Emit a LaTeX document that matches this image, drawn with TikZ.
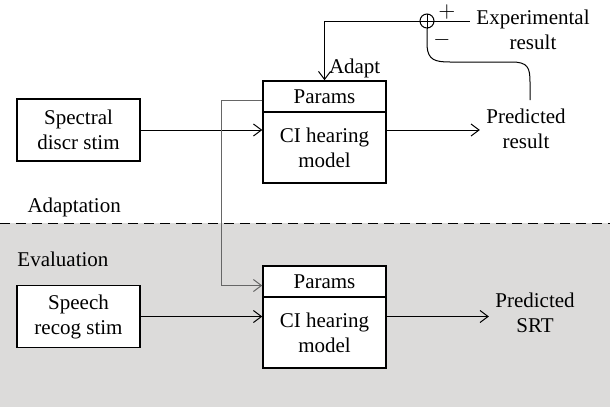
\documentclass[tikz,border=0pt]{standalone}
\usepackage{fontspec}
\setmainfont{Liberation Serif}
\usetikzlibrary{arrows.meta}

\definecolor{evalgray}{HTML}{DCDBDA}

\begin{document}
\begin{tikzpicture}[x=0.5pt,y=-0.5pt,line width=0.5pt,>={Straight Barb[length=4pt,width=6pt]},
  font=\fontsize{10.5pt}{12.5pt}\selectfont,
  box/.style={draw,line width=0.75pt,fill=white,minimum width=61.5pt,align=center,inner sep=0pt},
  lbl/.style={align=center,inner sep=3pt}]
  \useasboundingbox (0,0) rectangle (610,407);
  % evaluation area
  \fill[evalgray] (0,223) rectangle (610,407);
  \draw[dash pattern=on 5pt off 3pt] (0,223) -- (610,223);
  \node[anchor=west,inner sep=0pt] (adapttxt) at (27,207) {Adaptation};
  \node[anchor=west,inner sep=0pt] (evaltxt) at (17,259) {Evaluation};
  % adaptation blocks
  \node[box,minimum height=31pt] (spec) at (78.5,130) {Spectral\\discr stim};
  \node[box,minimum height=15.5pt] (params1) at (324.5,96.5) {Params};
  \node[box,minimum height=35.5pt] (model1) at (324.5,147.5) {CI hearing\\model};
  \node[lbl] (pred1) at (526,129) {Predicted\\result};
  \node[lbl] (exp) at (533,30) {Experimental\\result};
  \node[draw,circle,minimum size=7pt,inner sep=0pt] (sum) at (427,21) {};
  \draw (sum.north) -- (sum.south) (sum.west) -- (sum.east);
  \node[inner sep=0pt] (plus) at (447,12) {$+$};
  \node[inner sep=0pt] (minus) at (442,40) {$-$};
  % evaluation blocks
  \node[box,minimum height=31pt] (speech) at (78.5,316.5) {Speech\\recog stim};
  \node[box,minimum height=15.5pt] (params2) at (324.5,281.5) {Params};
  \node[box,minimum height=35.5pt] (model2) at (324.5,332.5) {CI hearing\\model};
  \node[lbl] (pred2) at (535,313) {Predicted\\SRT};
  % signal paths
  \draw[->] (spec) -- (spec -| model1.west);
  \draw[->] (spec -| model1.east) -- (spec -| pred1.west);
  \draw[->] (speech) -- (speech -| model2.west);
  \draw[->] (speech -| model2.east) -- (speech -| pred2.west);
  % feedback
  \draw (sum.east) -- (sum.east -| exp.west);
  \draw[->] (sum.west) -| (params1.north) node[pos=0.9,anchor=west,inner sep=2pt] (adapt) {Adapt};
  \draw (sum.south) -- (427,46) .. controls (428,60) and (435,62) .. (450,62)
    -- (512,62) .. controls (528,62) and (530,68) .. (530,82) -- (530,100);
  % parameter transfer
  \draw[gray!80!black,->] ([yshift=-2pt]params1.west) -- ++(-41,0) |- ([yshift=-2pt]params2.west);
\end{tikzpicture}
\end{document}
